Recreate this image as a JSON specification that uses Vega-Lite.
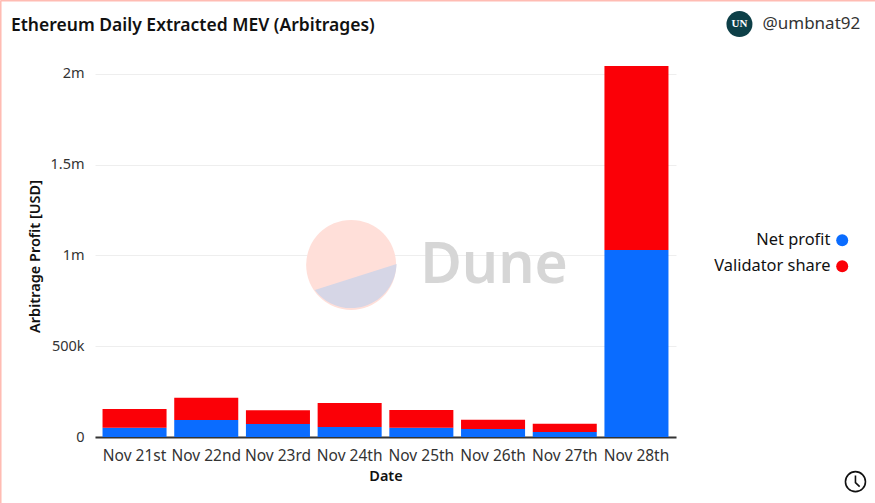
{
"$schema":"https://vega.github.io/schema/vega-lite/v6.json",
"autosize":{"type":"none"},
"padding":{"left":95,"top":66,"right":199,"bottom":66},
"width":581,"height":371,
"background":"white",
"config":{"font":"Noto Sans","view":{"stroke":null}},
"title":{"text":"Ethereum Daily Extracted MEV (Arbitrages)","anchor":"start","frame":"group","dx":-84,"dy":35,"offset":0,"fontSize":17.5,"fontWeight":600,"color":"#111111","font":"Noto Sans"},
"datasets":{
"bars":[
{"date":"Nov 21st","series":"Net profit","rank":1,"value":51000},
{"date":"Nov 21st","series":"Validator share","rank":2,"value":103000},
{"date":"Nov 22nd","series":"Net profit","rank":1,"value":94000},
{"date":"Nov 22nd","series":"Validator share","rank":2,"value":122000},
{"date":"Nov 23rd","series":"Net profit","rank":1,"value":72000},
{"date":"Nov 23rd","series":"Validator share","rank":2,"value":75000},
{"date":"Nov 24th","series":"Net profit","rank":1,"value":55000},
{"date":"Nov 24th","series":"Validator share","rank":2,"value":132000},
{"date":"Nov 25th","series":"Net profit","rank":1,"value":51000},
{"date":"Nov 25th","series":"Validator share","rank":2,"value":98000},
{"date":"Nov 26th","series":"Net profit","rank":1,"value":44000},
{"date":"Nov 26th","series":"Validator share","rank":2,"value":51000},
{"date":"Nov 27th","series":"Net profit","rank":1,"value":28000},
{"date":"Nov 27th","series":"Validator share","rank":2,"value":45000},
{"date":"Nov 28th","series":"Net profit","rank":1,"value":1030000},
{"date":"Nov 28th","series":"Validator share","rank":2,"value":1014000}
]},
"layer":[
{"data":{"values":[{"date":"Nov 24th","level":948000}]},
 "mark":{"type":"point","filled":true,"shape":"circle","size":8100,"color":"#ffdfd9","opacity":1,"xOffset":1.5},
 "encoding":{"x":{"field":"date","type":"nominal"},"y":{"field":"level","type":"quantitative"}}},
{"data":{"values":[{"date":"Nov 24th","level":948000}]},
 "mark":{"type":"point","filled":true,"shape":"M1,-0.02A1,1 0 0 1 -0.8,0.55Z","size":8250,"color":"#d6d6e6","opacity":1,"xOffset":1.5},
 "encoding":{"x":{"field":"date","type":"nominal"},"y":{"field":"level","type":"quantitative"}}},
{"data":{"values":[{"date":"Nov 26th","level":940000,"label":"Dune"}]},
 "mark":{"type":"text","fontSize":57,"fontWeight":600,"color":"#d6d6d6","align":"center","baseline":"middle","dx":1},
 "encoding":{"x":{"field":"date","type":"nominal"},"y":{"field":"level","type":"quantitative"},"text":{"field":"label"}}},
{"data":{"name":"bars"},
 "mark":{"type":"bar","tooltip":false},
 "encoding":{
  "x":{"field":"date","type":"nominal","sort":null,
   "scale":{"domain":["Nov 21st","Nov 22nd","Nov 23rd","Nov 24th","Nov 25th","Nov 26th","Nov 27th","Nov 28th"],"paddingInner":0.107,"paddingOuter":0.105},
   "axis":{"title":"Date","labelAngle":0,"labelAlign":"center","ticks":false,"domainColor":"#333333","domainWidth":2,"labelFontSize":15.5,"labelColor":"#333333","labelPadding":18,"titleFontSize":14.5,"titleFontWeight":600,"titleColor":"#111111","titlePadding":6,"grid":false}},
  "y":{"field":"value","type":"quantitative","stack":"zero",
   "scale":{"domain":[0,2044000],"nice":false},
   "axis":{"title":"Arbitrage Profit [USD]","titleY":190,"values":[0,500000,1000000,1500000,2000000],"labelExpr":"datum.value==0?'0':datum.value>=1000000?(datum.value/1000000)+'m':(datum.value/1000)+'k'","domain":false,"ticks":false,"grid":true,"gridColor":"#eeeeee","labelFontSize":14.5,"labelColor":"#333333","labelPadding":11,"titleFontSize":14.5,"titleFontWeight":600,"titleColor":"#111111","titlePadding":7}},
  "order":{"field":"rank","type":"quantitative","sort":"ascending"},
  "color":{"field":"series","type":"nominal",
   "scale":{"domain":["Net profit","Validator share"],"range":["#0a6cff","#fb0007"]},
   "legend":{"title":null,"orient":"none","legendX":739,"legendY":166,"padding":0,"symbolType":"circle","symbolSize":144,"symbolStrokeWidth":0,"labelAlign":"right","labelOffset":-20,"labelFontSize":16.4,"labelColor":"#111111","rowPadding":9}}
 }},
{"data":{"values":[{"date":"Nov 28th","level":2275000,"label":"@umbnat92"}]},
 "mark":{"type":"text","fontSize":17,"color":"#333333","align":"left","baseline":"middle","dx":126},
 "encoding":{"x":{"field":"date","type":"nominal"},"y":{"field":"level","type":"quantitative"},"text":{"field":"label"}}},
{"data":{"values":[{"date":"Nov 28th","level":2275000}]},
 "mark":{"type":"point","filled":true,"shape":"circle","size":676,"color":"#0d3f47","opacity":1,"xOffset":103},
 "encoding":{"x":{"field":"date","type":"nominal"},"y":{"field":"level","type":"quantitative"}}},
{"data":{"values":[{"date":"Nov 28th","level":2275000,"label":"UN"}]},
 "mark":{"type":"text","fontSize":11,"fontWeight":"bold","font":"Liberation Serif","color":"white","align":"center","baseline":"middle","dx":103},
 "encoding":{"x":{"field":"date","type":"nominal"},"y":{"field":"level","type":"quantitative"},"text":{"field":"label"}}},
{"data":{"values":[{"date":"Nov 28th","level":-246000}]},
 "mark":{"type":"point","filled":false,"shape":"M-1,0A1,1 0 1 1 1,0A1,1 0 1 1 -1,0Z M0,-0.62L0,0.1L0.42,0.5","size":400,"stroke":"#111111","strokeWidth":1.6,"opacity":1,"xOffset":219},
 "encoding":{"x":{"field":"date","type":"nominal"},"y":{"field":"level","type":"quantitative"}}},
{"data":{"values":[{"date":"Nov 21st","from":2405000,"to":-363000}]},
 "mark":{"type":"rule","stroke":"#ffbcb3","strokeWidth":2,"xOffset":-134},
 "encoding":{"x":{"field":"date","type":"nominal"},"y":{"field":"from","type":"quantitative"},"y2":{"field":"to"}}},
{"data":{"values":[{"from":"Nov 21st","to":"Nov 28th","level":2405000}]},
 "mark":{"type":"rule","stroke":"#ffbcb3","strokeWidth":2,"xOffset":-134,"x2Offset":240},
 "encoding":{"x":{"field":"from","type":"nominal"},"x2":{"field":"to"},"y":{"field":"level","type":"quantitative"}}}
]
}
